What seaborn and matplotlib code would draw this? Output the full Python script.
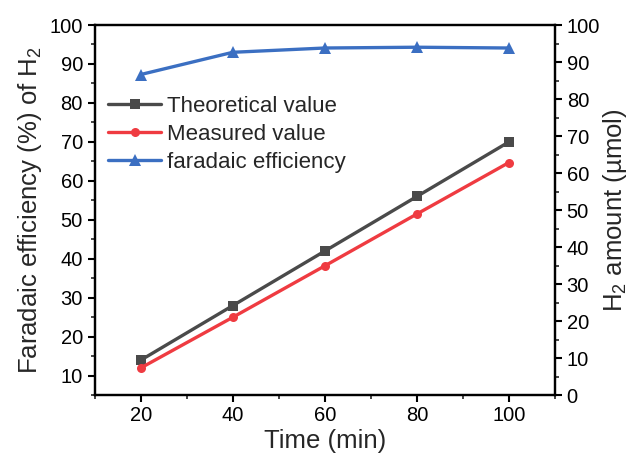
import numpy as np
import pandas as pd
import matplotlib
matplotlib.use("Agg")
import matplotlib.pyplot as plt
from matplotlib.ticker import MultipleLocator
import seaborn as sns

# data
time_min = [20, 40, 60, 80, 100]
theoretical = [14.0, 28.0, 42.0, 56.0, 70.0]
measured = [12.0, 25.0, 38.2, 51.5, 64.7]
faradaic = [87.3, 93.0, 94.1, 94.3, 94.1]

series_names = ["Theoretical value", "Measured value", "faradaic efficiency"]
colors = ["#4a4a4a", "#ef3b41", "#3b6fc2"]
markers = ["s", "o", "^"]

sns.set_style("ticks")
plt.rcParams["font.family"] = ["Liberation Sans", "DejaVu Sans"]
plt.rcParams["mathtext.default"] = "regular"

fig = plt.figure(figsize=(6.32, 4.59), dpi=100)
ax = fig.add_axes([0.150, 0.139, 0.728, 0.8065])

for name, vals, c, m in zip(series_names, [theoretical, measured, faradaic], colors, markers):
    df = pd.DataFrame({"Time": time_min, "value": vals})
    sns.lineplot(data=df, x="Time", y="value", ax=ax, color=c, marker=m,
                 markersize=8 if m == "^" else 6.5, markeredgewidth=0,
                 linewidth=2.4, label=name)

ax.set_xlim(10, 110)
ax.set_ylim(5, 100)
ax.xaxis.set_major_locator(MultipleLocator(20))
ax.xaxis.set_minor_locator(MultipleLocator(10))
ax.set_yticks(np.arange(10, 101, 10))
ax.yaxis.set_minor_locator(MultipleLocator(5))
ax.set_xlabel("Time (min)", fontsize=18.5, labelpad=3)
ax.set_ylabel("Faradaic efficiency (%) of H$_2$", fontsize=18.5, labelpad=4)

ax2 = ax.twinx()
ax2.set_ylim(0, 100)
ax2.set_yticks(np.arange(0, 101, 10))
ax2.yaxis.set_minor_locator(MultipleLocator(5))
ax2.set_ylabel("H$_2$ amount (µmol)", fontsize=18.5, labelpad=1)

for a in (ax, ax2):
    for s in a.spines.values():
        s.set_visible(True)
        s.set_linewidth(1.6)
        s.set_color("black")
    a.tick_params(which="major", direction="out", length=5, width=1.5, labelsize=14.5, colors="black")
    a.tick_params(which="minor", direction="out", length=3, width=1.2)
ax.tick_params(axis="y", which="both", right=False)
ax.tick_params(axis="x", which="both", top=False, pad=3)
ax2.tick_params(axis="y", which="both", left=False)

leg = ax.legend(loc="upper left", bbox_to_anchor=(0.0, 0.845), frameon=False,
                fontsize=16, handlelength=2.4, handletextpad=0.25,
                labelspacing=0.32, borderaxespad=0.2)

fig.savefig("out.png", dpi=100)
